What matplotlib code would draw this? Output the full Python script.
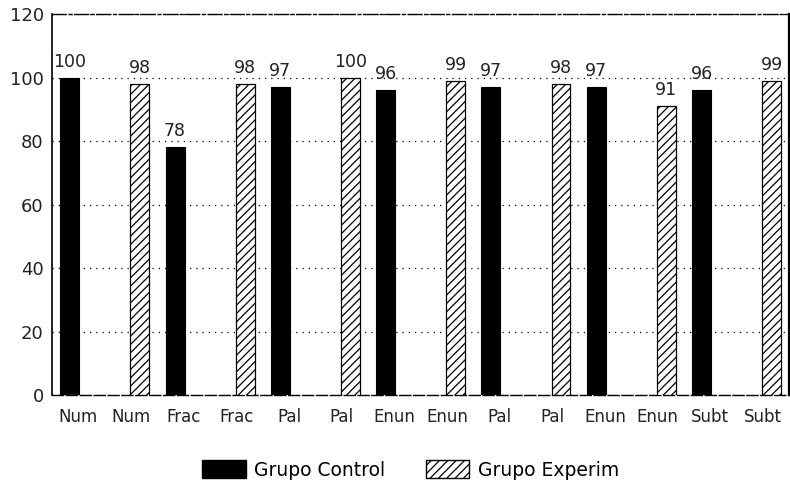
import matplotlib
matplotlib.use("Agg")
import matplotlib.pyplot as plt
from matplotlib.patches import Patch
import numpy as np

categories = ["Num", "Num", "Frac", "Frac", "Pal", "Pal", "Enun", "Enun",
              "Pal", "Pal", "Enun", "Enun", "Subt", "Subt"]
control = [100, None, 78, None, 97, None, 96, None, 97, None, 97, None, 96, None]
experim = [None, 98, None, 98, None, 100, None, 99, None, 98, None, 91, None, 99]
yticks = [0, 20, 40, 60, 80, 100, 120]

plt.rcParams['font.family'] = ['DejaVu Sans']
plt.rcParams['hatch.linewidth'] = 0.9

fig = plt.figure(figsize=(7.9, 4.83), dpi=100)
ax = fig.add_axes([0.066, 0.182, 0.933, 0.789])

x = np.arange(len(categories))
w = 0.36
off = 0.165

cx = [xi - off for xi, v in zip(x, control) if v is not None]
cv = [v for v in control if v is not None]
ex = [xi + off for xi, v in zip(x, experim) if v is not None]
ev = [v for v in experim if v is not None]

bc = ax.bar(cx, cv, width=w, color="black", edgecolor="black", linewidth=0.8, zorder=3)
be = ax.bar(ex, ev, width=w, color="white", edgecolor="black", hatch="////",
            linewidth=0.9, zorder=3)

for rect, v in zip(list(bc) + list(be), cv + ev):
    ax.annotate(f"{v}", (rect.get_x() + rect.get_width() / 2, v),
                xytext=(0, 5), textcoords="offset points",
                ha="center", va="bottom", fontsize=12.5, color="#222222")

ax.set_xlim(-0.5, len(categories) - 0.5)
ax.set_ylim(0, 120)
ax.set_yticks(yticks)
ax.set_yticklabels([str(t) for t in yticks], fontsize=13, color="#222222")
ax.set_xticks(x)
ax.set_xticklabels(categories, fontsize=12, color="#222222")
ax.tick_params(axis="both", length=0)
ax.tick_params(axis="y", pad=6)
ax.tick_params(axis="x", pad=9)

ax.yaxis.grid(True, linestyle=(0, (1, 4)), color="black", linewidth=0.9, zorder=0)
ax.set_axisbelow(True)

ax.spines["left"].set_linewidth(1.2)
ax.spines["right"].set_linewidth(1.6)
ax.spines["top"].set_linewidth(1.0)
ax.spines["top"].set_linestyle((0, (10, 2, 2, 2)))
ax.spines["bottom"].set_linewidth(1.0)
ax.spines["bottom"].set_linestyle((0, (8, 2)))

handles = [Patch(facecolor="black", edgecolor="black"),
           Patch(facecolor="white", edgecolor="black", hatch="////")]
fig.legend(handles, ["Grupo Control", "Grupo Experim"], loc="center",
           bbox_to_anchor=(0.52, 0.027), ncol=2, frameon=False,
           fontsize=13.5, handlelength=2.3, handleheight=1.1,
           handletextpad=0.45, columnspacing=2.2)

fig.savefig("out.png", dpi=100)
